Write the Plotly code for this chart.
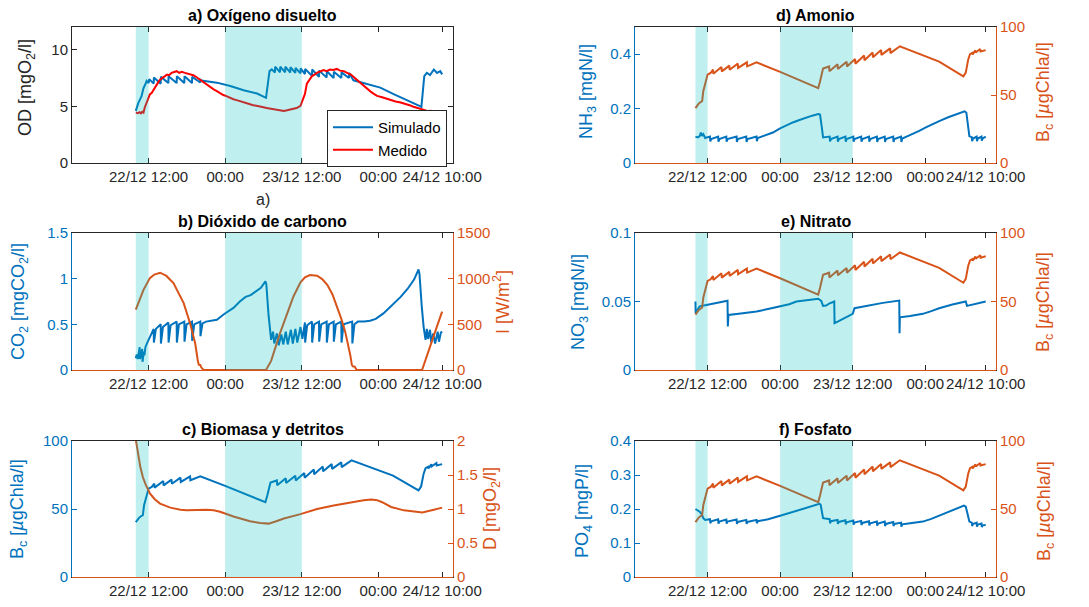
import pandas as pd
import plotly.graph_objects as go

# ---------------- data (hours since 22/12 00:00, value) ----------------
tick_hours = [12, 24, 36, 48, 58]
tick_text = ["22/12 12:00", "00:00", "23/12 12:00", "00:00", "24/12 10:00"]
x_range_hours = [0, 59.7]
shade_hours = [(10.0, 12.0), (24.0, 36.0)]

od_sim_pts = [(10.0, 4.6), (10.4, 5.3), (10.9, 5.9), (11.2, 6.6), (11.5, 6.95), (11.7, 7.25), (12.0, 7.05),
              (12.1, 7.4), (12.8, 7.0), (12.83, 7.55), (13.9, 7.0), (13.93, 7.6), (15.1, 7.05), (15.13, 7.65),
              (16.4, 7.05), (16.43, 7.65), (17.6, 7.05), (17.63, 7.65), (18.8, 7.05), (18.83, 7.6), (20.1, 7.1),
              (20.13, 7.35), (20.5, 7.25), (22.7, 7.09), (24.8, 6.8), (26.9, 6.42), (29.0, 6.13), (30.0, 5.84),
              (30.4, 5.75), (30.95, 8.11), (31.3, 8.26), (31.8, 7.98), (31.83, 8.5), (32.6, 8.0), (32.63, 8.5),
              (33.4, 8.0), (33.43, 8.5), (34.2, 7.98), (34.23, 8.45), (35.0, 7.95), (35.03, 8.4), (35.8, 7.9),
              (35.83, 8.35), (36.5, 7.85), (36.53, 8.3), (37.6, 7.7), (37.63, 8.25), (38.7, 7.6), (38.73, 8.15),
              (39.9, 7.55), (39.93, 8.1), (41.0, 7.5), (41.03, 8.05), (42.2, 7.5), (42.23, 8.0), (43.4, 7.5),
              (43.43, 7.95), (44.1, 7.3), (46.2, 6.95), (48.3, 6.65), (50.4, 6.07), (52.5, 5.57), (54.6, 5.0),
              (54.75, 4.95), (55.2, 7.67), (55.6, 7.96), (56.1, 7.75), (56.7, 8.25), (57.2, 7.95), (57.7, 8.1),
              (58.0, 7.82)]

od_med_pts = [(10.0, 4.45), (10.3, 4.40), (10.6, 4.48), (10.8, 4.38), (11.0, 4.52), (11.2, 4.45), (11.4, 4.9),
              (11.7, 5.3), (11.9, 5.5), (12.2, 6.05), (12.5, 6.2), (12.8, 6.5), (13.0, 6.65), (13.3, 6.9),
              (13.6, 7.2), (13.8, 7.35), (14.1, 7.5), (14.4, 7.6), (14.9, 7.8), (15.2, 7.75), (15.6, 7.95),
              (16.0, 8.0), (16.4, 8.1), (16.8, 7.95), (17.2, 8.05), (17.7, 7.95), (18.1, 7.9), (18.6, 7.8),
              (19.0, 7.75), (19.3, 7.65), (19.8, 7.45), (20.2, 7.3), (20.6, 7.1), (21.1, 6.9), (21.6, 6.75),
              (22.2, 6.5), (22.7, 6.35), (23.2, 6.15), (23.7, 6.0), (24.2, 5.9), (24.7, 5.75), (25.3, 5.63),
              (25.8, 5.55), (26.3, 5.45), (26.9, 5.35), (27.4, 5.22), (27.9, 5.18), (28.4, 5.1), (29.0, 5.05),
              (29.5, 4.96), (30.0, 4.92), (30.5, 4.85), (31.0, 4.8), (31.6, 4.76), (32.1, 4.7), (32.6, 4.65),
              (33.2, 4.6), (33.7, 4.65), (34.2, 4.7), (34.7, 4.76), (35.2, 4.85), (35.8, 5.05), (36.1, 5.5),
              (36.5, 6.1), (36.8, 7.0), (37.1, 7.3), (37.6, 7.67), (38.0, 7.8), (38.5, 8.0), (39.0, 8.1),
              (39.4, 8.2), (39.9, 8.1), (40.4, 8.25), (40.9, 8.2), (41.5, 8.3), (42.0, 8.15), (42.6, 8.1),
              (43.1, 7.96), (43.7, 7.8), (44.4, 7.45), (45.0, 7.15), (45.6, 6.85), (46.2, 6.55), (46.8, 6.3),
              (47.3, 6.1), (47.8, 5.92), (48.6, 5.8), (49.4, 5.63), (50.0, 5.5), (50.7, 5.42), (51.5, 5.34),
              (52.2, 5.25), (52.9, 5.1), (53.5, 4.96), (54.2, 4.85), (55.1, 4.67), (55.8, 4.58), (56.2, 4.6),
              (56.7, 4.52), (57.2, 4.5), (57.6, 4.45), (58.0, 4.46)]

co2_pts = [(10.0, 0.13), (10.15, 0.17), (10.3, 0.12), (10.45, 0.21), (10.6, 0.25), (10.65, 0.12), (10.85, 0.20),
           (11.0, 0.23), (11.05, 0.09), (11.25, 0.20), (11.35, 0.16), (11.5, 0.25), (11.8, 0.30), (12.2, 0.36),
           (12.55, 0.43), (12.8, 0.45), (12.83, 0.30), (13.15, 0.45), (13.9, 0.50), (13.93, 0.29), (14.25, 0.47),
           (15.1, 0.52), (15.13, 0.30), (15.45, 0.49), (16.4, 0.53), (16.43, 0.30), (16.75, 0.50), (17.6, 0.53),
           (17.63, 0.31), (17.95, 0.50), (18.8, 0.53), (18.83, 0.32), (19.15, 0.50), (20.1, 0.53), (20.13, 0.37),
           (20.45, 0.51), (21.0, 0.53), (22.0, 0.54), (22.7, 0.55), (23.8, 0.61), (25.3, 0.68), (26.3, 0.75),
           (27.2, 0.80), (28.0, 0.82), (28.9, 0.86), (29.6, 0.90), (30.2, 0.96), (30.3, 0.97), (30.45, 0.94),
           (30.8, 0.60), (31.2, 0.33), (31.5, 0.42), (31.7, 0.29), (32.1, 0.40), (32.4, 0.27), (32.8, 0.39),
           (33.1, 0.28), (33.5, 0.42), (33.8, 0.28), (34.3, 0.44), (34.6, 0.29), (35.0, 0.45), (35.3, 0.30),
           (35.8, 0.47), (36.1, 0.34), (36.5, 0.52), (36.53, 0.30), (36.85, 0.49), (37.6, 0.53), (37.63, 0.30),
           (37.95, 0.50), (38.7, 0.53), (38.73, 0.31), (39.05, 0.50), (39.9, 0.53), (39.93, 0.30), (40.25, 0.50),
           (41.0, 0.53), (41.03, 0.31), (41.35, 0.50), (42.2, 0.53), (42.23, 0.30), (42.55, 0.50), (43.9, 0.53),
           (43.93, 0.29), (44.25, 0.50), (44.8, 0.53), (45.8, 0.53), (46.7, 0.54), (47.6, 0.56), (48.8, 0.62),
           (50.0, 0.70), (51.5, 0.80), (52.6, 0.89), (53.6, 0.99), (54.3, 1.10), (54.45, 1.05), (54.8, 0.70),
           (55.1, 0.47), (55.4, 0.33), (55.6, 0.45), (55.8, 0.34), (56.1, 0.44), (56.3, 0.30), (56.6, 0.40),
           (56.9, 0.29), (57.3, 0.42), (57.5, 0.31), (57.8, 0.41), (58.0, 0.42)]

irr_pts = [(10.0, 660), (10.6, 770), (11.2, 878), (12.2, 1006), (12.9, 1045), (13.8, 1065), (14.8, 1030),
           (15.9, 952), (16.7, 850), (17.5, 732), (18.5, 512), (19.3, 293), (19.7, 110), (19.85, 60), (20.0, 55),
           (20.1, 55), (20.25, 30), (20.6, 0), (30.4, 0), (31.2, 100), (32.6, 403), (33.7, 620), (34.7, 805),
           (35.8, 960), (36.5, 1015), (37.3, 1040), (38.4, 1032), (39.2, 995), (40.0, 933), (40.8, 830),
           (41.5, 695), (42.2, 560), (42.8, 420), (43.3, 270), (43.6, 165), (43.85, 55), (44.0, 40), (44.3, 36),
           (44.6, 0), (54.85, 0), (55.6, 160), (56.4, 330), (57.2, 480), (58.0, 640)]

bc_pts = [(10.0, 40.4), (10.5, 43.5), (10.9, 45.0), (11.1, 45.5), (11.3, 53.0), (11.7, 60.0), (12.0, 65.0),
          (12.5, 66.2), (12.9, 68.6), (12.95, 65.7), (14.3, 70.6), (14.35, 67.4), (15.6, 71.6), (15.65, 68.6),
          (17.0, 73.1), (17.05, 69.9), (18.5, 74.0), (18.55, 71.1), (20.1, 74.0), (24.0, 67.0), (30.3, 55.0),
          (30.6, 60.0), (30.9, 67.0), (31.1, 69.5), (32.1, 71.0), (32.15, 67.5), (33.5, 72.6), (33.55, 69.1),
          (35.0, 74.5), (35.05, 71.0), (36.4, 76.5), (36.45, 73.0), (37.9, 79.0), (37.95, 75.5), (39.3, 81.2),
          (39.35, 77.7), (40.7, 83.0), (40.75, 79.5), (42.2, 84.3), (42.25, 80.8), (43.8, 85.8), (50.3, 74.5),
          (54.3, 63.7), (54.7, 66.5), (55.1, 76.0), (55.4, 80.0), (55.8, 81.0), (55.85, 79.8), (56.3, 82.9),
          (56.35, 81.2), (57.1, 83.8), (57.15, 82.0), (58.0, 83.0)]

det_pts = [(10.0, 2.02), (10.3, 1.85), (10.7, 1.62), (11.1, 1.47), (11.5, 1.37), (12.2, 1.23), (13.0, 1.14),
           (13.8, 1.08), (15.4, 1.02), (17.0, 0.99), (18.0, 0.98), (19.5, 0.985), (21.1, 0.99), (22.2, 0.98),
           (23.2, 0.96), (25.3, 0.89), (27.9, 0.82), (29.5, 0.795), (30.8, 0.785), (32.0, 0.82), (33.2, 0.86),
           (35.8, 0.925), (38.4, 1.0), (41.0, 1.05), (43.6, 1.10), (45.7, 1.13), (46.9, 1.14), (47.8, 1.13),
           (48.6, 1.10), (50.0, 1.03), (52.0, 0.98), (53.5, 0.96), (54.9, 0.95), (56.7, 0.99), (58.0, 1.02)]

nh3_pts = [(10.0, 0.097), (10.4, 0.094), (10.7, 0.099), (10.9, 0.112), (11.1, 0.100), (11.3, 0.106), (11.6, 0.092),
           (12.0, 0.095), (12.4, 0.097), (12.45, 0.079), (12.6, 0.088), (13.75, 0.097), (13.8, 0.078), (13.95, 0.088),
           (15.1, 0.097), (15.15, 0.078), (15.3, 0.088), (16.8, 0.097), (16.85, 0.077), (17.0, 0.088), (18.4, 0.097),
           (18.45, 0.077), (18.6, 0.088), (20.1, 0.097), (20.15, 0.080), (20.3, 0.092), (21.0, 0.098), (22.0, 0.104),
           (22.8, 0.112), (24.0, 0.127), (25.0, 0.138), (26.1, 0.149), (27.2, 0.158), (28.3, 0.167), (29.3, 0.174),
           (30.3, 0.180), (30.6, 0.178), (30.9, 0.130), (31.1, 0.094), (32.2, 0.097), (32.25, 0.079), (32.4, 0.088),
           (33.5, 0.097), (33.55, 0.078), (33.7, 0.088), (34.8, 0.097), (34.85, 0.078), (35.0, 0.088), (36.1, 0.097),
           (36.15, 0.078), (36.3, 0.088), (37.4, 0.097), (37.45, 0.078), (37.6, 0.088), (38.7, 0.097), (38.75, 0.078),
           (38.9, 0.088), (40.0, 0.097), (40.05, 0.077), (40.2, 0.088), (41.3, 0.097), (41.35, 0.077), (41.5, 0.088),
           (42.7, 0.097), (42.75, 0.077), (42.9, 0.088), (44.0, 0.097), (44.05, 0.077), (44.2, 0.090), (45.0, 0.098),
           (45.9, 0.106), (47.0, 0.118), (48.1, 0.131), (49.2, 0.143), (50.4, 0.155), (51.8, 0.168), (53.1, 0.180),
           (54.5, 0.190), (54.8, 0.185), (55.1, 0.130), (55.3, 0.098), (55.7, 0.095), (55.75, 0.080), (55.9, 0.090),
           (56.5, 0.097), (56.55, 0.080), (56.7, 0.090), (57.3, 0.097), (57.35, 0.082), (57.5, 0.090), (58.0, 0.097)]

no3_pts = [(10.0, 0.050), (10.03, 0.0415), (10.4, 0.0445), (10.7, 0.0465), (11.8, 0.0475), (13.5, 0.049),
           (15.3, 0.0505), (15.35, 0.0317), (15.45, 0.0402), (17.5, 0.0412), (20.1, 0.0427), (22.0, 0.0445),
           (24.0, 0.0463), (25.5, 0.048), (26.7, 0.0500), (28.5, 0.0512), (30.3, 0.052), (30.8, 0.0505),
           (31.1, 0.0468), (31.6, 0.047), (32.2, 0.0487), (32.95, 0.0500), (33.0, 0.0342), (33.6, 0.0355),
           (34.7, 0.0380), (35.8, 0.0402), (36.0, 0.0410), (36.3, 0.0451), (38.5, 0.0470), (41.0, 0.0490),
           (43.7, 0.0507), (43.75, 0.0268), (43.8, 0.0385), (45.5, 0.0395), (47.6, 0.0410), (49.0, 0.0430),
           (50.3, 0.0451), (52.5, 0.0478), (54.7, 0.0500), (54.9, 0.0468), (56.5, 0.0483), (58.0, 0.0500)]

po4_pts = [(10.0, 0.200), (10.4, 0.196), (10.7, 0.192), (11.0, 0.186), (11.3, 0.173), (11.6, 0.168), (12.4, 0.170),
           (12.45, 0.158), (12.6, 0.164), (13.75, 0.170), (13.8, 0.157), (13.95, 0.163), (15.1, 0.169), (15.15, 0.157),
           (15.3, 0.163), (16.8, 0.169), (16.85, 0.156), (17.0, 0.162), (18.4, 0.168), (18.45, 0.156), (18.6, 0.162),
           (20.1, 0.168), (20.15, 0.158), (20.3, 0.164), (22.0, 0.170), (24.0, 0.180), (25.6, 0.189), (27.2, 0.198),
           (28.8, 0.207), (30.5, 0.215), (30.7, 0.213), (30.9, 0.190), (31.1, 0.173), (32.2, 0.170), (32.25, 0.158),
           (32.4, 0.164), (33.5, 0.168), (33.55, 0.156), (33.7, 0.162), (34.8, 0.167), (34.85, 0.155), (35.0, 0.161),
           (36.1, 0.166), (36.15, 0.154), (36.3, 0.160), (37.4, 0.165), (37.45, 0.153), (37.6, 0.159), (38.7, 0.164),
           (38.75, 0.152), (38.9, 0.158), (40.0, 0.163), (40.05, 0.151), (40.2, 0.157), (41.3, 0.163), (41.35, 0.150),
           (41.5, 0.156), (42.7, 0.162), (42.75, 0.150), (42.9, 0.156), (44.0, 0.160), (44.05, 0.148), (44.2, 0.155),
           (45.5, 0.158), (46.5, 0.160), (47.6, 0.163), (49.0, 0.171), (50.3, 0.180), (51.5, 0.188), (52.5, 0.195),
           (53.5, 0.203), (54.4, 0.210), (54.7, 0.207), (55.0, 0.185), (55.3, 0.163), (55.7, 0.160), (55.75, 0.150),
           (55.9, 0.156), (56.5, 0.160), (56.55, 0.148), (56.7, 0.154), (57.3, 0.157), (57.35, 0.147), (57.5, 0.152),
           (58.0, 0.153)]

# ---------------- styling ----------------
BLUE = "#0072BD"
ORANGE = "#D95319"
RED = "#FF0000"
AX = "#262626"
SHADE = "rgba(0,191,191,0.25)"
FONT = "Liberation Sans, Arial, Helvetica, sans-serif"
W, H = 1089, 607
TICK_SIZE = 15
LABEL_SIZE = 18
TITLE_SIZE = 16

BASE = pd.Timestamp("2016-12-22 00:00")


def to_dt(hours):
    return [(BASE + pd.Timedelta(hours=h)).strftime("%Y-%m-%d %H:%M:%S") for h in hours]


def px_x(p):
    return p / W


def px_y(p):
    return 1 - p / H


col_dom = {"L": [72 / W, 453 / W], "R": [635 / W, 996 / W]}
row_px = {1: (27, 163), 2: (233, 370), 3: (441, 577)}
row_dom = {r: [px_y(b), px_y(t)] for r, (t, b) in row_px.items()}


def fmt(v):
    return f"{v:g}"


panels = [
    dict(col="L", row=1, title="a) Oxígeno disuelto",
         left=dict(rng=[0, 12], ticks=[0, 5, 10], label="OD [mgO<sub>2</sub>/l]", color=AX, lab=(27, 88)),
         right=None,
         series=[(od_sim_pts, "L", BLUE, "Simulado"), (od_med_pts, "L", RED, "Medido")]),
    dict(col="L", row=2, title="b) Dióxido de carbono",
         left=dict(rng=[0, 1.5], ticks=[0, 0.5, 1, 1.5], label="CO<sub>2</sub> [mgCO<sub>2</sub>/l]", color=BLUE, lab=(20, 302)),
         right=dict(rng=[0, 1500], ticks=[0, 500, 1000, 1500], label="I [W/m<sup>2</sup>]", color=ORANGE, lab=(502, 302)),
         series=[(co2_pts, "L", BLUE, None), (irr_pts, "R", ORANGE, None)]),
    dict(col="L", row=3, title="c) Biomasa y detritos",
         left=dict(rng=[0, 100], ticks=[0, 50, 100], label="B<sub>c</sub> [<i>µ</i>gChla/l]", color=BLUE, lab=(18, 509)),
         right=dict(rng=[0, 2], ticks=[0, 0.5, 1, 1.5, 2], label="D [mgO<sub>2</sub>/l]", color=ORANGE, lab=(491, 509)),
         series=[(bc_pts, "L", BLUE, None), (det_pts, "R", ORANGE, None)]),
    dict(col="R", row=1, title="d) Amonio",
         left=dict(rng=[0, 0.5], ticks=[0, 0.2, 0.4], label="NH<sub>3</sub> [mgN/l]", color=BLUE, lab=(588, 92)),
         right=dict(rng=[0, 100], ticks=[0, 50, 100], label="B<sub>c</sub> [<i>µ</i>gChla/l]", color=ORANGE, lab=(1045, 92)),
         series=[(nh3_pts, "L", BLUE, None), (bc_pts, "R", ORANGE, None)]),
    dict(col="R", row=2, title="e) Nitrato",
         left=dict(rng=[0, 0.1], ticks=[0, 0.05, 0.1], label="NO<sub>3</sub> [mgN/l]", color=BLUE, lab=(580, 302)),
         right=dict(rng=[0, 100], ticks=[0, 50, 100], label="B<sub>c</sub> [<i>µ</i>gChla/l]", color=ORANGE, lab=(1045, 302)),
         series=[(no3_pts, "L", BLUE, None), (bc_pts, "R", ORANGE, None)]),
    dict(col="R", row=3, title="f) Fosfato",
         left=dict(rng=[0, 0.4], ticks=[0, 0.1, 0.2, 0.3, 0.4], label="PO<sub>4</sub> [mgP/l]", color=BLUE, lab=(583, 511)),
         right=dict(rng=[0, 100], ticks=[0, 50, 100], label="B<sub>c</sub> [<i>µ</i>gChla/l]", color=ORANGE, lab=(1045, 511)),
         series=[(po4_pts, "L", BLUE, None), (bc_pts, "R", ORANGE, None)]),
]


def key(kind, n):
    return f"{kind}axis" + ("" if n == 1 else str(n))


def ref(kind, n):
    return kind + ("" if n == 1 else str(n))


fig = go.Figure()
layout = dict(template="none", width=W, height=H, autosize=False,
              margin=dict(l=0, r=0, t=0, b=0, pad=0, autoexpand=False),
              paper_bgcolor="white", plot_bgcolor="white",
              font=dict(family=FONT, size=TICK_SIZE, color=AX), showlegend=True,
              legend=dict(x=px_x(447), xanchor="right", y=px_y(110), yanchor="top",
                          bordercolor=AX, borderwidth=1, bgcolor="white",
                          font=dict(family=FONT, size=15, color="#000000"),
                          itemwidth=40, tracegroupgap=0))
shapes = []
annotations = []
yn = 1
for i, p in enumerate(panels, start=1):
    xn = i
    yl = yn
    yr = yn + 1 if p["right"] else None
    yn += 2 if p["right"] else 1
    xdom = col_dom[p["col"]]
    ydom = row_dom[p["row"]]
    plot_h = row_px[p["row"]][1] - row_px[p["row"]][0]

    layout[key("x", xn)] = dict(domain=xdom, anchor=ref("y", yl), type="date", automargin=False,
                                range=to_dt(x_range_hours), tickvals=to_dt(tick_hours), ticktext=tick_text,
                                tickangle=0, ticks="inside", ticklen=5, tickcolor=AX, showline=True,
                                linecolor=AX, linewidth=1, mirror="ticks", showgrid=False, zeroline=False,
                                tickfont=dict(family=FONT, size=TICK_SIZE, color=AX))
    L = p["left"]
    layout[key("y", yl)] = dict(domain=ydom, anchor=ref("x", xn), range=L["rng"], tickvals=L["ticks"],
                                automargin=False, ticktext=[fmt(v) for v in L["ticks"]], ticks="inside",
                                ticklen=5, tickcolor=L["color"], showline=True, linecolor=L["color"],
                                linewidth=1, mirror="ticks" if p["right"] is None else False, showgrid=False,
                                zeroline=False, tickfont=dict(family=FONT, size=TICK_SIZE, color=L["color"]))
    annotations.append(dict(text=L["label"], x=px_x(L["lab"][0]), y=px_y(L["lab"][1]), xref="paper",
                            yref="paper", textangle=-90, showarrow=False, xanchor="center", yanchor="middle",
                            font=dict(family=FONT, size=LABEL_SIZE, color=L["color"])))
    R = p["right"]
    if R:
        layout[key("y", yr)] = dict(domain=ydom, anchor=ref("x", xn), overlaying=ref("y", yl), side="right",
                                    automargin=False, range=R["rng"], tickvals=R["ticks"],
                                    ticktext=[fmt(v) for v in R["ticks"]], ticks="inside", ticklen=5,
                                    tickcolor=R["color"], showline=True, linecolor=R["color"], linewidth=1,
                                    showgrid=False, zeroline=False,
                                    tickfont=dict(family=FONT, size=TICK_SIZE, color=R["color"]))
        annotations.append(dict(text=R["label"], x=px_x(R["lab"][0]), y=px_y(R["lab"][1]), xref="paper",
                                yref="paper", textangle=-90, showarrow=False, xanchor="center",
                                yanchor="middle", font=dict(family=FONT, size=LABEL_SIZE, color=R["color"])))
        # bottom frame edge drawn in the right-axis colour
        off = 0.5 / plot_h
        shapes.append(dict(type="line", xref=ref("x", xn) + " domain", yref=ref("y", yl) + " domain",
                           x0=0, x1=1, y0=-off, y1=-off, line=dict(color=ORANGE, width=1), layer="above"))

    for pts, side, color, name in p["series"]:
        t = [a for a, _ in pts]
        v = [b for _, b in pts]
        fig.add_trace(go.Scatter(x=to_dt(t), y=v, mode="lines", line=dict(color=color, width=2),
                                 xaxis=ref("x", xn), yaxis=ref("y", yl if side == "L" else yr),
                                 name=name or "", showlegend=name is not None, hoverinfo="skip"))

    for a, b in shade_hours:
        x0, x1 = to_dt([a, b])
        shapes.append(dict(type="rect", xref=ref("x", xn), yref=ref("y", yl) + " domain", x0=x0, x1=x1,
                           y0=0, y1=1, fillcolor=SHADE, line=dict(width=0), layer="above"))

    top_px = row_px[p["row"]][0]
    annotations.append(dict(text="<b>" + p["title"] + "</b>", x=(xdom[0] + xdom[1]) / 2, y=px_y(top_px - 12),
                            xref="paper", yref="paper", showarrow=False, xanchor="center", yanchor="middle",
                            font=dict(family=FONT, size=TITLE_SIZE, color="#000000")))

annotations.append(dict(text="a)", x=px_x(263), y=px_y(200), xref="paper", yref="paper", showarrow=False,
                        xanchor="center", yanchor="middle", font=dict(family=FONT, size=16, color=AX)))

layout["shapes"] = shapes
layout["annotations"] = annotations
fig.update_layout(**layout)
fig.write_html("out.html", config={"displayModeBar": False},
               post_script="document.body.style.margin='0px';document.body.style.padding='0px';")
